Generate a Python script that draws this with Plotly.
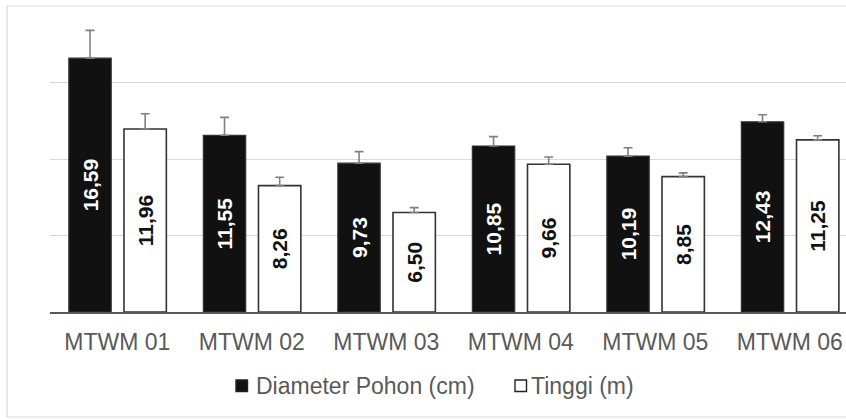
import plotly.graph_objects as go

categories = ["MTWM 01", "MTWM 02", "MTWM 03", "MTWM 04", "MTWM 05", "MTWM 06"]
diameter = [16.59, 11.55, 9.73, 10.85, 10.19, 12.43]
diameter_err = [1.82, 1.17, 0.75, 0.61, 0.55, 0.46]
tinggi = [11.96, 8.26, 6.50, 9.66, 8.85, 11.25]
tinggi_err = [1.00, 0.55, 0.32, 0.47, 0.24, 0.27]
y_ticks = [0, 5, 10, 15, 20]
series_names = ["Diameter Pohon (cm)", "Tinggi (m)"]

def fmt(v):
    return f"{v:.2f}".replace(".", ",")

FONT = "Liberation Sans, Arial, sans-serif"
W, H = 846, 419
ML, MR, MT, MB = 50, 0, 6, 107
ph = H - MT - MB
pw = W - ML - MR

def px_x(x):
    return (x - ML) / pw

def px_y(y):
    return (H - MB - y) / ph

fig = go.Figure()
fig.add_trace(go.Bar(
    name=series_names[0], x=categories, y=diameter,
    width=0.315, offset=-0.36,
    marker=dict(color="#111111", line=dict(color="#333333", width=1.2)),
    error_y=dict(type="data", array=diameter_err, arrayminus=[0] * len(diameter_err),
                 symmetric=False, visible=True,
                 color="#808080", thickness=1.6, width=4.5),
    text=[fmt(v) for v in diameter], textposition="inside",
    insidetextanchor="middle", textangle=-90,
    textfont=dict(family=FONT, size=21, color="#ffffff", weight="bold"),
))
fig.add_trace(go.Bar(
    name=series_names[1], x=categories, y=tinggi,
    width=0.315, offset=0.05,
    marker=dict(color="#ffffff", line=dict(color="#333333", width=1.6)),
    error_y=dict(type="data", array=tinggi_err, arrayminus=[0] * len(tinggi_err),
                 symmetric=False, visible=True,
                 color="#808080", thickness=1.6, width=4.5),
    text=[fmt(v) for v in tinggi], textposition="inside",
    insidetextanchor="middle", textangle=-90,
    textfont=dict(family=FONT, size=21, color="#111111", weight="bold"),
))

# outer chart border
fig.add_shape(type="rect", xref="paper", yref="paper",
              x0=px_x(7), x1=px_x(860), y0=px_y(417), y1=px_y(6),
              line=dict(color="#d9d9d9", width=1.2), fillcolor="rgba(0,0,0,0)",
              layer="below")

# manual legend
legend_items = [
    (series_names[0], "#111111", 236, 255),
    (series_names[1], "#ffffff", 515, 530),
]
for name, fill, sx, tx in legend_items:
    fig.add_shape(type="rect", xref="paper", yref="paper",
                  x0=px_x(sx), x1=px_x(sx + 11.5), y0=px_y(391.5), y1=px_y(380),
                  line=dict(color="#222222", width=1.4), fillcolor=fill)
    fig.add_annotation(text=name, xref="paper", yref="paper",
                       x=px_x(tx - 1), y=px_y(386), xanchor="left", yanchor="middle",
                       showarrow=False,
                       font=dict(family=FONT, size=23, color="#595959"))

fig.update_layout(
    width=W, height=H,
    margin=dict(l=ML, r=MR, t=MT, b=MB),
    paper_bgcolor="white", plot_bgcolor="white",
    font=dict(family=FONT, color="#595959"),
    barmode="overlay",
    showlegend=False,
    xaxis=dict(range=[-0.5, 5.418], showline=True, linecolor="#595959", linewidth=1.6,
               ticks="", tickfont=dict(family=FONT, size=23, color="#595959"),
               ticklabelstandoff=9, showgrid=False),
    yaxis=dict(range=[0, 20], tickvals=y_ticks, showticklabels=False,
               showgrid=True, gridcolor="#d9d9d9", gridwidth=1.2,
               zeroline=False, showline=False),
)

fig.write_html("out.html", config={"displayModeBar": False},
               post_script="document.body.style.margin='0';")
